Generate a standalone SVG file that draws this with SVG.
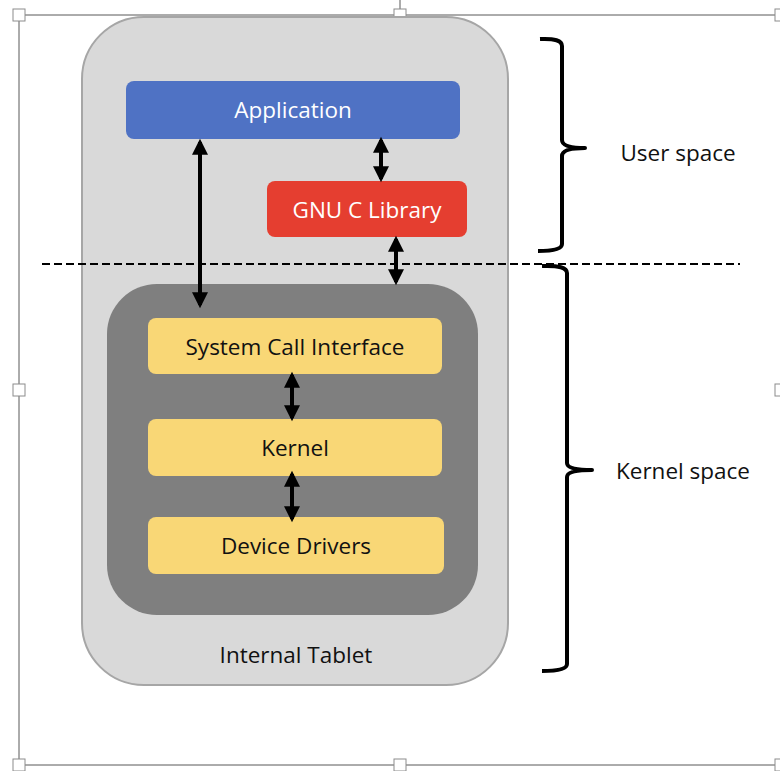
<svg xmlns="http://www.w3.org/2000/svg" width="780" height="771" viewBox="0 0 780 771">
<style>
.frame{fill:none;stroke:#595959;stroke-width:1}
.h{fill:#fff;stroke:#8c8c8c;stroke-width:1}
.t{font-family:"Open Sans","Noto Sans",sans-serif;text-anchor:middle;dominant-baseline:central}
.w{fill:#fff;font-size:22.5px}
.k{fill:#111;font-size:22.5px}
.lbl{fill:#111;font-size:22.5px}
.y{fill:#f9d776}
.c{stroke:#000;stroke-width:4;fill:none;marker-start:url(#a);marker-end:url(#a)}
.br{stroke:#000;stroke-width:4;fill:none;stroke-linejoin:round}
</style>
<defs>
<marker id="a" viewBox="0 0 10 10" refX="8" refY="5" markerWidth="4.5" markerHeight="4" orient="auto-start-reverse" markerUnits="strokeWidth">
<path d="M0,0 L10,5 L0,10 z" fill="#000"/>
</marker>
</defs>
<rect width="780" height="771" fill="#fff"/>
<g id="frame">
<line x1="400" y1="0" x2="400" y2="10" class="frame"/>
<polyline points="780,15 19,15 19,765 780,765" class="frame"/>
<rect x="13" y="9" width="12" height="12" class="h"/>
<rect x="394" y="9" width="12" height="12" class="h"/>
<rect x="13" y="384" width="12" height="12" class="h"/>
<rect x="13" y="759" width="12" height="12" class="h"/>
<rect x="394" y="759" width="12" height="12" class="h"/>
<rect x="775" y="384" width="12" height="12" class="h"/>
<rect x="775" y="759" width="12" height="12" class="h"/>
<rect x="775" y="9" width="12" height="12" class="h"/>
</g>
<g id="internal-tablet">
<rect x="82" y="17" width="426" height="668" rx="62" fill="#d9d9d9" stroke="#a6a6a6" stroke-width="2"/>
<text x="296" y="654" class="t lbl">Internal Tablet</text>
</g>
<g id="application">
<rect x="126" y="81" width="334" height="58" rx="8" fill="#4f72c4"/>
<text x="293" y="109" class="t w">Application</text>
</g>
<g id="glibc">
<rect x="267" y="181" width="200" height="56" rx="8" fill="#e53e30"/>
<text x="367" y="209" class="t w">GNU C Library</text>
</g>
<g id="kernel-area">
<rect x="107" y="284" width="371" height="331" rx="50" fill="#7f7f7f"/>
</g>
<g id="sci">
<rect x="148" y="318" width="294" height="56" rx="8" class="y"/>
<text x="295" y="346" class="t k">System Call Interface</text>
</g>
<g id="kernel">
<rect x="148" y="419" width="294" height="57" rx="8" class="y"/>
<text x="295" y="447" class="t k">Kernel</text>
</g>
<g id="drivers">
<rect x="148" y="517" width="296" height="57" rx="8" class="y"/>
<text x="296" y="545" class="t k">Device Drivers</text>
</g>
<g id="separator">
<line x1="42" y1="264" x2="740" y2="264" stroke="#000" stroke-width="2" stroke-dasharray="8,4"/>
</g>
<g id="connectors">
<line x1="200" y1="142" x2="200" y2="305" class="c"/>
<line x1="381" y1="140" x2="381" y2="179" class="c"/>
<line x1="396" y1="239" x2="396" y2="282" class="c"/>
<line x1="292" y1="375" x2="292" y2="418" class="c"/>
<line x1="292" y1="474" x2="292" y2="519" class="c"/>
</g>
<g id="user-space">
<path d="M540,39 Q562,38 562,46 L562,140 Q562,148 585,148 Q562,148 562,156 L562,244 Q562,251 538,251" class="br"/>
<text x="678" y="152" class="t lbl">User space</text>
</g>
<g id="kernel-space">
<path d="M542,266 Q567,265 567,273 L567,463 Q567,470 592,470 Q567,470 567,477 L567,664 Q567,671 542,671" class="br"/>
<text x="683" y="470" class="t lbl">Kernel space</text>
</g>
</svg>
